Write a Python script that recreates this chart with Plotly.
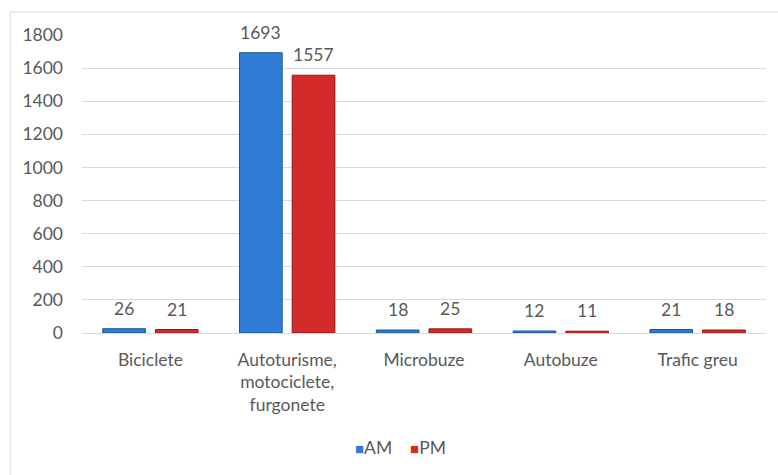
import plotly.graph_objects as go

categories = ["Biciclete", "Autoturisme,<br>motociclete,<br>furgonete", "Microbuze", "Autobuze", "Trafic greu"]
am_values = [26, 1693, 18, 12, 21]
pm_values = [21, 1557, 25, 11, 18]
y_ticks = [0, 200, 400, 600, 800, 1000, 1200, 1400, 1600, 1800]

FONT = "Lato, Carlito, Calibri, sans-serif"
GREY = "#595959"
FS = 17.5
AM_COLOR = "#2F7DD4"
PM_COLOR = "#D22B29"

BARGAP = 0.23
BARGROUPGAP = 0.19

fig = go.Figure()
fig.add_trace(go.Bar(
    name="AM", x=categories, y=am_values,
    marker=dict(color=AM_COLOR, line=dict(color="#1D5498", width=1)),
))
fig.add_trace(go.Bar(
    name="PM", x=categories, y=pm_values,
    marker=dict(color=PM_COLOR, line=dict(color="#8E1715", width=1)),
))

# value labels above each bar, placed at the centre of its slot within the group
slot = (1 - BARGAP) / 2
annotations = []
for series, sign in ((am_values, -1), (pm_values, 1)):
    for i, v in enumerate(series):
        annotations.append(dict(
            x=i + sign * slot / 2, y=v, xref="x", yref="y",
            text=str(v), showarrow=False, yanchor="bottom", yshift=8,
            font=dict(family=FONT, size=FS, color=GREY),
        ))

# legend line: small coloured squares followed by the series names
annotations.append(dict(
    x=0.465, y=-0.385, xref="paper", yref="paper", showarrow=False,
    xanchor="center", yanchor="middle",
    text=(f"<span style='color:{AM_COLOR};font-size:15px'>■</span>AM&nbsp;&nbsp;&nbsp;&nbsp;"
          f"<span style='color:{PM_COLOR};font-size:15px'>■</span>PM"),
    font=dict(family=FONT, size=FS, color=GREY),
))

fig.update_layout(
    width=778, height=475,
    margin=dict(l=82, r=12, t=35, b=142),
    paper_bgcolor="white", plot_bgcolor="white",
    barmode="group", bargap=BARGAP, bargroupgap=BARGROUPGAP,
    font=dict(family=FONT, size=FS, color=GREY),
    showlegend=False,
    annotations=annotations,
    xaxis=dict(showgrid=False, showline=False, ticks="", ticklabelstandoff=14,
               tickfont=dict(size=FS, color=GREY)),
    yaxis=dict(range=[0, 1800], tickvals=y_ticks, showgrid=True, gridcolor="#D9D9D9",
               gridwidth=1, zeroline=True, zerolinecolor="#D9D9D9", zerolinewidth=1,
               ticks="", ticklabelstandoff=18, tickfont=dict(size=FS, color=GREY)),
    shapes=[dict(type="rect", xref="paper", yref="paper",
                 x0=-0.105, x1=1.2, y0=-1.0, y1=1.077,
                 line=dict(color="#D9D9D9", width=1), layer="below")],
)

fig.write_html("out.html")
